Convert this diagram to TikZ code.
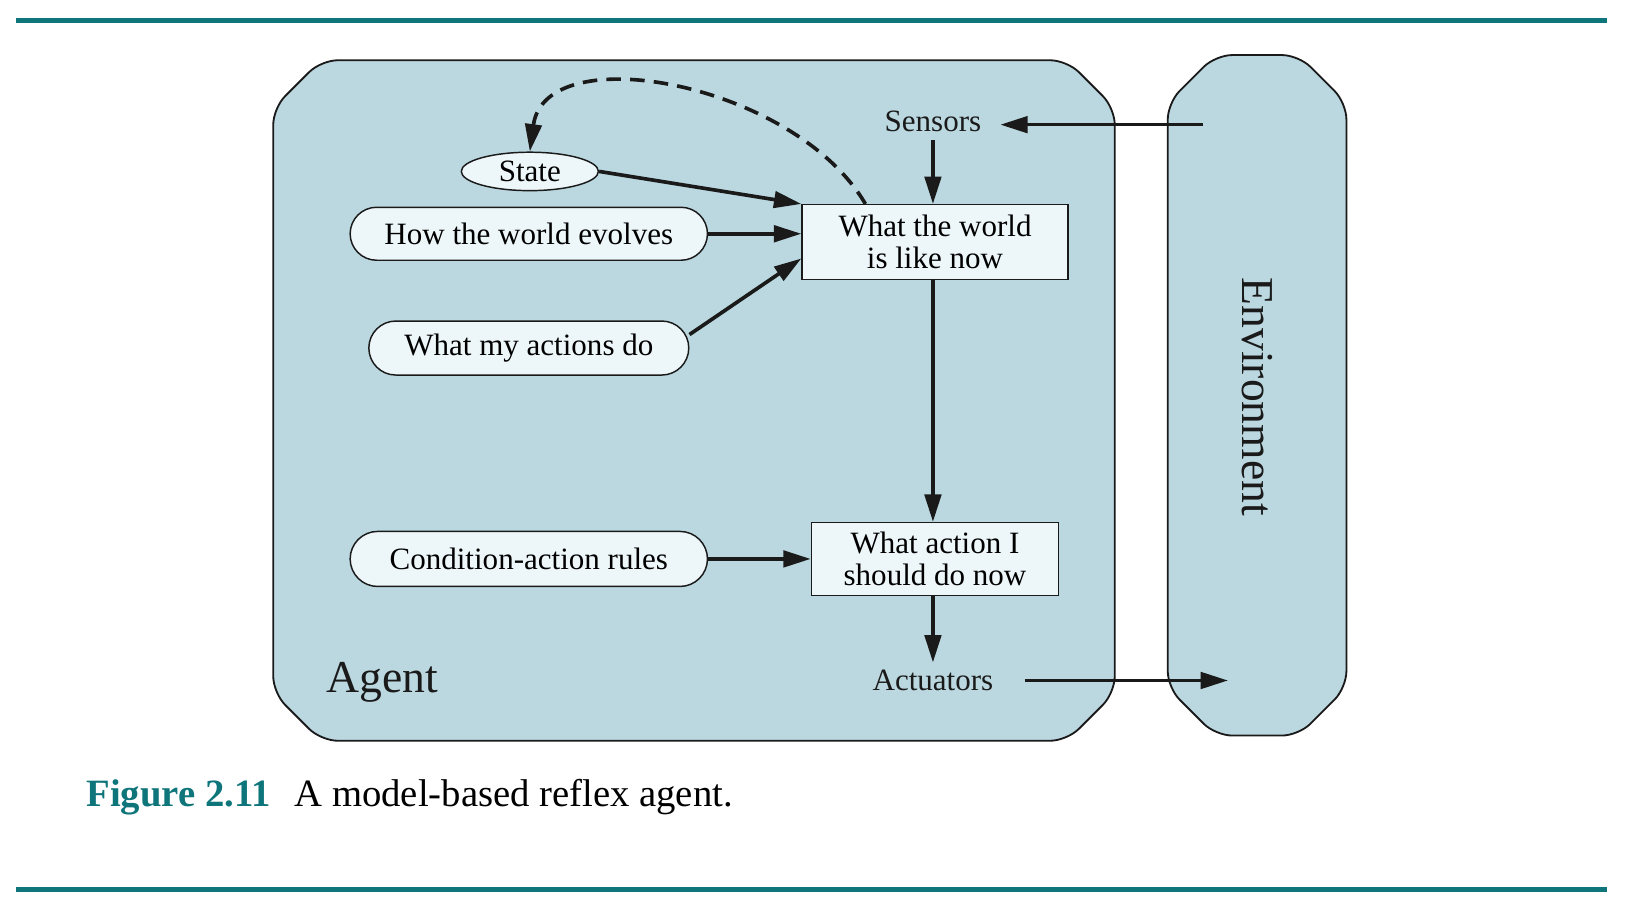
\documentclass[tikz,border=0pt]{standalone}
\usepackage{fontspec}
\setmainfont{Liberation Serif}
\usetikzlibrary{arrows.meta,shapes.geometric,shapes.misc}
\definecolor{agentblue}{RGB}{187,216,224}
\definecolor{nodewhite}{RGB}{237,246,249}
\definecolor{figteal}{RGB}{14,117,122}
\definecolor{inkblack}{RGB}{26,26,26}
\tikzset{
  flow/.style={
    line width=2pt,
    draw=inkblack,
    -{Triangle[length=15pt,width=9pt]}
  },
  flow-dashed/.style={flow, dash pattern=on 8pt off 5pt},
  panel/.style={fill=agentblue, draw=inkblack, line width=1pt, rounded corners=0.32cm},
  label-text/.style={font=\fontsize{17}{17.3}\selectfont, text=inkblack, inner sep=4pt},
  model-pill/.style={rounded rectangle, fill=nodewhite, draw=inkblack, line width=0.8pt, font=\fontsize{17}{17.3}\selectfont, inner sep=0pt},
  state-oval/.style={ellipse, fill=nodewhite, draw=inkblack, line width=0.8pt, font=\fontsize{17}{17.3}\selectfont, inner sep=0pt},
  stage-box/.style={rectangle, fill=nodewhite, draw=inkblack, line width=0.8pt, align=center, font=\fontsize{17}{17.3}\selectfont, inner sep=0pt},
  big-label/.style={font=\fontsize{25}{28}\selectfont, text=inkblack},
  teal-rule/.style={line width=2.8pt, draw=figteal}
}
\newcommand{\chamferpanel}[4]{
  \draw[panel] (#1+46,#2) -- (#3-46,#2) -- (#3,#2+46) -- (#3,#4-46) -- (#3-46,#4) -- (#1+46,#4) -- (#1,#4-46) -- (#1,#2+46) -- cycle;
}

\begin{document}
\begin{tikzpicture}[x=0.02cm,y=-0.02cm]
  \useasboundingbox (0,0) rectangle (1568,886);
  % Rules above and below
  \draw[teal-rule] (15,20) -- (1547,20);
  \draw[teal-rule] (15,856) -- (1547,856);
  % Agent and environment panels
  \chamferpanel{263}{58}{1073}{713}
  \chamferpanel{1124}{53}{1296}{708}
  \node[big-label] (agent-label) at (368,657) {Agent};
  \node[big-label, rotate=-90] (env-label) at (1210,382) {Environment};
  % Model of the world
  \node[state-oval, minimum width=2.64cm, minimum height=0.74cm] (state) at (510,165) {State};
  \node[model-pill, minimum width=6.88cm, minimum height=1.02cm] (evolves) at (509,225) {How the world evolves};
  \node[model-pill, minimum width=6.16cm, minimum height=1.04cm] (acts) at (509,335) {What my actions do};
  \node[model-pill, minimum width=6.88cm, minimum height=1.06cm] (rules) at (509,538) {Condition-action rules};
  % Percepts and actions
  \node[label-text] (sensors) at (898,117) {Sensors};
  \node[stage-box, minimum width=5.12cm, minimum height=1.44cm] (world) at (900,233) {What the world\\is like now};
  \node[stage-box, minimum width=4.76cm, minimum height=1.4cm] (action) at (900,538) {What action I\\should do now};
  \node[label-text] (actuators) at (898,655) {Actuators};
  \coordinate (env-in) at (1158,120);
  \coordinate (env-out) at (1182,655);
  \coordinate (loop-start) at ([xshift=-1.34cm]world.north);
  % Connectors
  \draw[flow, shorten >=0.22cm] (env-in) -- (env-in -| sensors.east);
  \draw[flow] (sensors) -- (sensors |- world.north);
  \draw[flow] (state.east) -- (world.north west);
  \draw[flow] (evolves.east) -- (evolves.east -| world.west);
  \draw[flow] ([yshift=0.26cm]acts.east) -- (world.187);
  \draw[flow] (sensors |- world.south) -- (sensors |- action.north);
  \draw[flow] (rules) -- (action);
  \draw[flow] (sensors |- action.south) -- (actuators);
  \draw[flow, shorten <=0.46cm] (actuators.east) -- (env-out);
  \draw[flow-dashed] (loop-start) .. controls (765,80) and (525,35) .. (state.north);
  % Caption
  \node[anchor=west, font=\fontsize{21.2}{24}\selectfont, inner sep=0pt] (caption) at (83,767)
    {{\color{figteal}\bfseries Figure 2.11}\hspace{13pt}A model-based reflex agent.};
\end{tikzpicture}
\end{document}
